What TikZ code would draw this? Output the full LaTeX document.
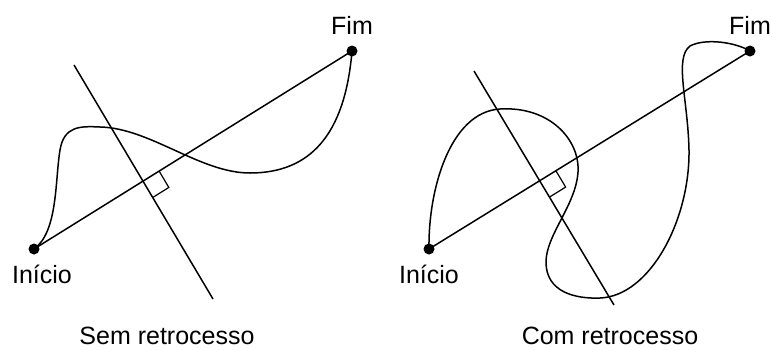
\documentclass[tikz,border=0pt]{standalone}
\usepackage{fontspec}
\setmainfont{Liberation Sans}
\usetikzlibrary{calc}
\begin{document}
\begin{tikzpicture}[x=1pt,y=-1pt,line width=1.5pt,
  enddot/.style={circle,fill=black,inner sep=0pt,minimum size=11pt},
  lbl/.style={anchor=base,inner sep=0pt,font=\fontsize{25}{29}\selectfont},
  curve/.style={line width=1.5pt,line join=round}]
\useasboundingbox (0,0) rectangle (772,349);
% ---------- left panel ----------
\node[enddot] (i1) at (34,249) {};
\node[enddot] (f1) at (352,51) {};
\coordinate (p1a) at (74,65);
\coordinate (p1b) at (213,299);
\draw (i1.center) -- (f1.center);
\draw (p1a) -- (p1b);
\coordinate (x1) at (intersection of i1.center--f1.center and p1a--p1b);
\draw[line width=1.2pt] ($(x1)!19pt!(f1.center)$) -- ($($(x1)!19pt!(f1.center)$)+($(x1)!19pt!(p1b)$)-(x1)$) -- ($(x1)!19pt!(p1b)$);
\draw[curve] (i1.center) .. controls (58,232) and (55,180) .. (60,150)
  .. controls (64,126) and (80,126) .. (100,127)
  .. controls (150,128) and (200,173) .. (250,173)
  .. controls (310,173) and (345,135) .. (f1.center);
\node[lbl] (t1f) at (352,34) {Fim};
\node[lbl] (t1i) at (42,283) {Início};
\node[lbl] (t1) at (167,344) {Sem retrocesso};
% ---------- right panel ----------
\node[enddot] (i2) at (429,249) {};
\node[enddot] (f2) at (750,51) {};
\coordinate (p2a) at (474,71);
\coordinate (p2b) at (614,305);
\draw (i2.center) -- (f2.center);
\draw (p2a) -- (p2b);
\coordinate (x2) at (intersection of i2.center--f2.center and p2a--p2b);
\draw[line width=1.2pt] ($(x2)!19pt!(f2.center)$) -- ($($(x2)!19pt!(f2.center)$)+($(x2)!19pt!(p2b)$)-(x2)$) -- ($(x2)!19pt!(p2b)$);
\draw[curve] (i2.center) .. controls (428,190) and (450,112) .. (500,109)
  .. controls (550,106) and (580,140) .. (578,172)
  .. controls (576,205) and (546,235) .. (546,262)
  .. controls (546,292) and (575,299) .. (600,298)
  .. controls (650,296) and (690,220) .. (689,150)
  .. controls (688,100) and (674,58) .. (690,46)
  .. controls (705,38) and (735,42) .. (f2.center);
\node[lbl] (t2f) at (750,34) {Fim};
\node[lbl] (t2i) at (429,283) {Início};
\node[lbl] (t2) at (610,344) {Com retrocesso};
\end{tikzpicture}
\end{document}
